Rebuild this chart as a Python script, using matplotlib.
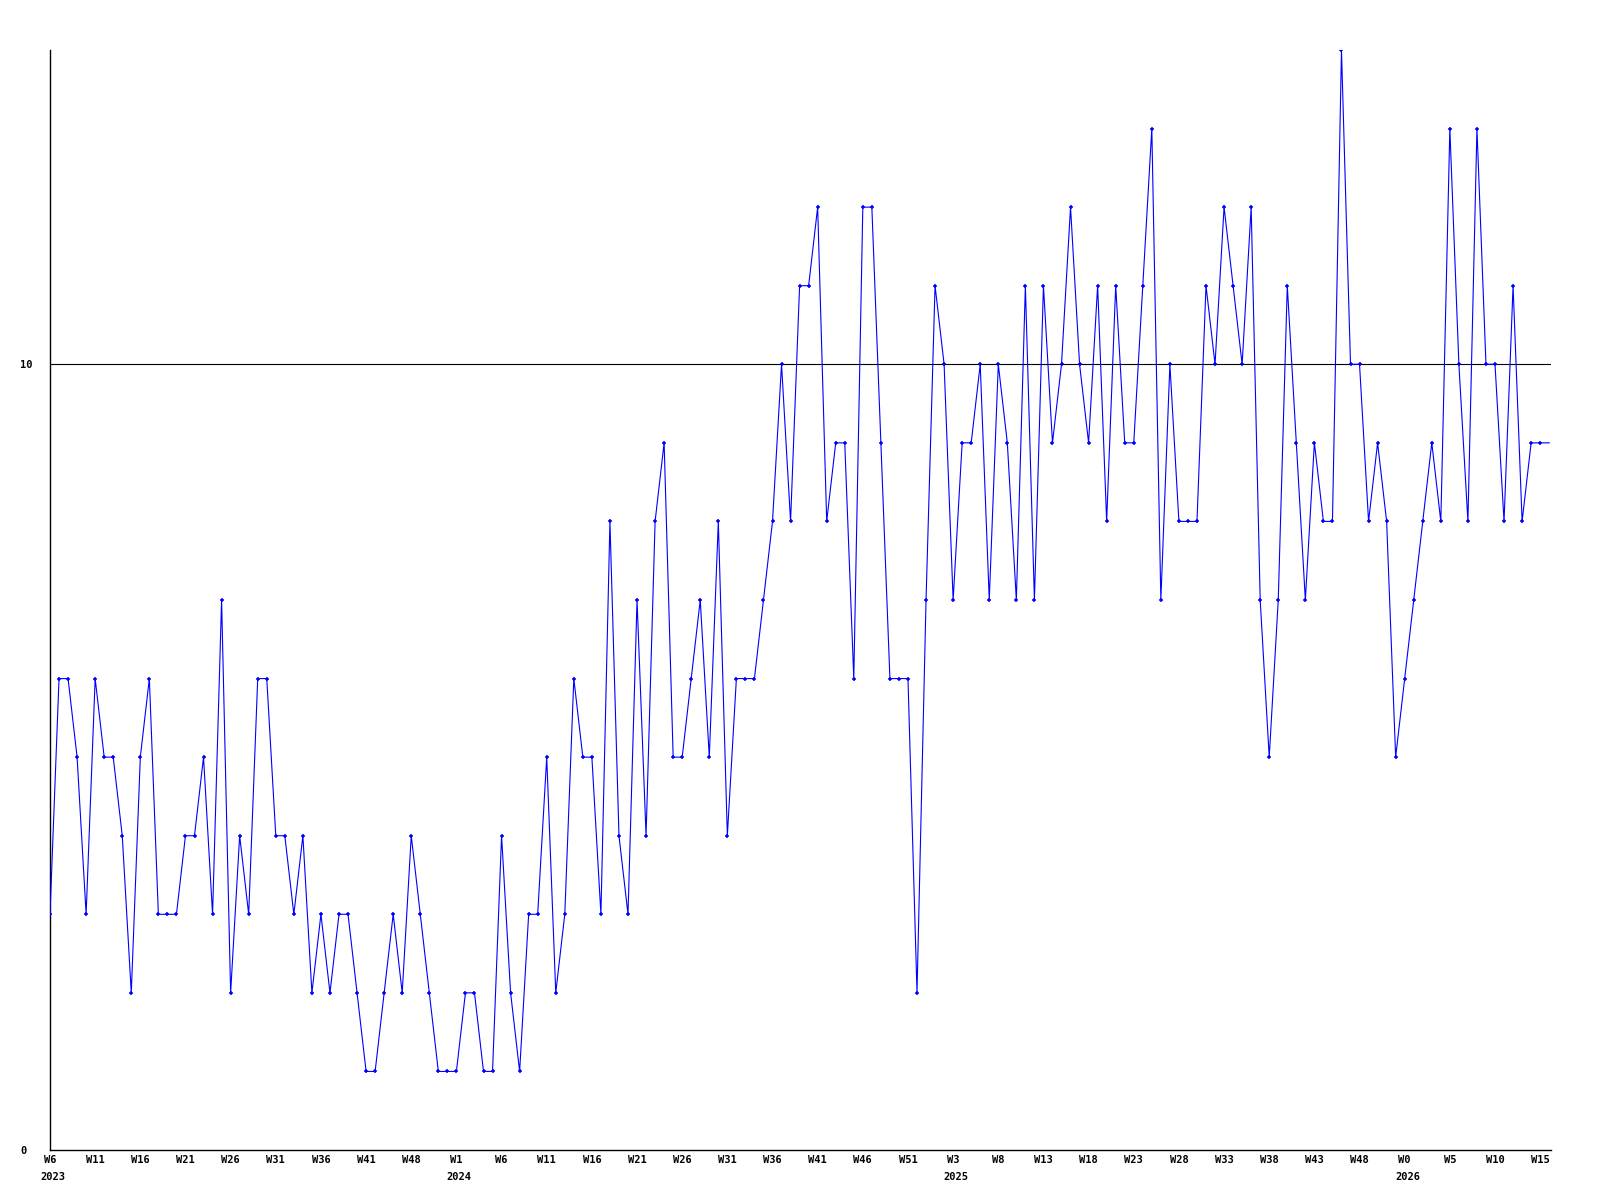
import matplotlib
matplotlib.use("Agg")
import matplotlib.pyplot as plt
from matplotlib.transforms import blended_transform_factory

# weekly values, W6 2023 onwards
values = [
    3, 6, 6, 5, 3, 6, 5, 5, 4, 2,
    5, 6, 3, 3, 3, 4, 4, 5, 3, 7,
    2, 4, 3, 6, 6, 4, 4, 3, 4, 2,
    3, 2, 3, 3, 2, 1, 1, 2, 3, 2,
    4, 3, 2, 1, 1, 1, 2, 2, 1, 1,
    4, 2, 1, 3, 3, 5, 2, 3, 6, 5,
    5, 3, 8, 4, 3, 7, 4, 8, 9, 5,
    5, 6, 7, 5, 8, 4, 6, 6, 6, 7,
    8, 10, 8, 11, 11, 12, 8, 9, 9, 6,
    12, 12, 9, 6, 6, 6, 2, 7, 11, 10,
    7, 9, 9, 10, 7, 10, 9, 7, 11, 7,
    11, 9, 10, 12, 10, 9, 11, 8, 11, 9,
    9, 11, 13, 7, 10, 8, 8, 8, 11, 10,
    12, 11, 10, 12, 7, 5, 7, 11, 9, 7,
    9, 8, 8, 14, 10, 10, 8, 9, 8, 5,
    6, 7, 8, 9, 8, 13, 10, 8, 13, 10,
    10, 8, 11, 8, 9, 9,
]
# point just past the right edge (only the line reaches it)
trailing_value = 9

week_labels = ["W6", "W11", "W16", "W21", "W26", "W31", "W36", "W41", "W48",
               "W1", "W6", "W11", "W16", "W21", "W26", "W31", "W36", "W41",
               "W46", "W51", "W3", "W8", "W13", "W18", "W23", "W28", "W33",
               "W38", "W43", "W48", "W0", "W5", "W10", "W15"]
years = ["2023", "2024", "2025", "2026"]
year_label_index = [0, 9, 20, 30]  # which week label each year sits under
reference_level = 10

font = {"family": "DejaVu Sans Mono", "weight": "bold", "size": 7.5}

fig = plt.figure(figsize=(16, 12), dpi=100)
ax = fig.add_axes([50 / 1600, 1 - 1150 / 1200, 1501 / 1600, 1100 / 1200])

x = list(range(len(values)))
ax.plot(x + [len(values)], values + [trailing_value], color="#0000ff", lw=0.8, zorder=3)
ax.plot(x, values, ls="none", marker="+", ms=3.2, mew=1.1, color="#0000ff", zorder=4)

ax.axhline(reference_level, color="black", lw=0.8, zorder=2)

ax.set_xlim(0, len(values) + 0.2)
ax.set_ylim(0, 14)

for s in ["top", "right"]:
    ax.spines[s].set_visible(False)
for s in ["left", "bottom"]:
    ax.spines[s].set_linewidth(1.0)
    ax.spines[s].set_color("black")

tick_pos = [i * 5 for i in range(len(week_labels))]
ax.set_xticks(tick_pos, week_labels, **font)
ax.tick_params(axis="x", length=0, pad=3.5)

ax.set_yticks([0, reference_level], ["0", "10"], **font)
ax.tick_params(axis="y", length=0, pad=21.6)
for lbl in ax.get_yticklabels():
    lbl.set_horizontalalignment("left")

trans = blended_transform_factory(ax.transData, ax.transAxes)
for yr, li in zip(years, year_label_index):
    ax.annotate(yr, xy=(tick_pos[li], 0), xycoords=trans,
                xytext=(2, -19.4), textcoords="offset points",
                ha="center", va="center", **font)

fig.savefig("out.png", dpi=100)
